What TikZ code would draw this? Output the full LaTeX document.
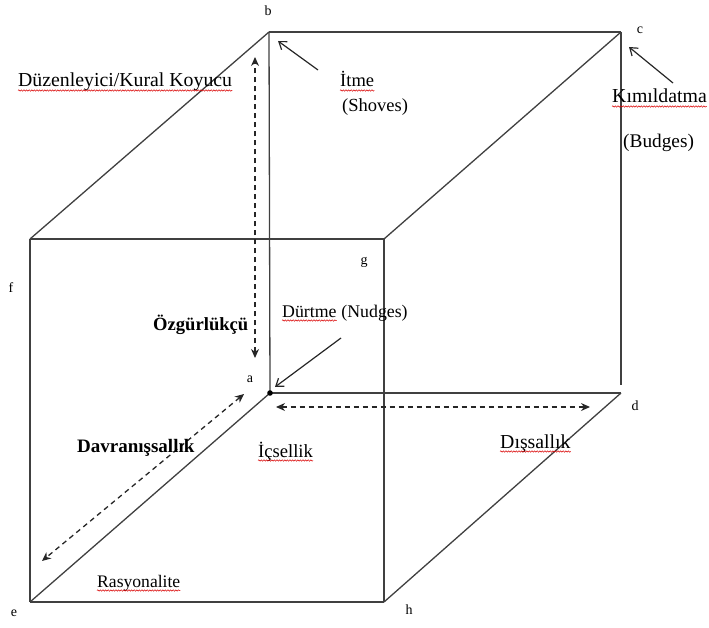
\documentclass[tikz,border=0pt]{standalone}
\usepackage{fontspec}
\setmainfont{Liberation Serif}
\usetikzlibrary{arrows.meta,decorations.pathmorphing}
\begin{document}
\begin{tikzpicture}[x=1pt,y=-1pt,
  edge/.style={draw=black!75,line width=1.3pt},
  dasharrow/.style={draw=black!85,line width=1.3pt,dash pattern=on 5pt off 4pt,{Stealth[length=9pt,width=8pt]}-{Stealth[length=9pt,width=8pt]}},
  ptr/.style={draw=black!85,line width=1.2pt,-{Straight Barb[length=7pt,width=10pt]}},
  lbl/.style={inner sep=0pt,font=\fontsize{#1}{20}\selectfont},
  lbl/.default=18,
  blbl/.style={inner sep=0pt,font=\fontsize{#1}{20}\selectfont\bfseries},
  blbl/.default=18,
  vtx/.style={inner sep=0pt,font=\fontsize{14}{15}\selectfont},
  squig/.style={draw=red!85!black,line width=0.5pt,decorate,decoration={snake,amplitude=0.7pt,segment length=2.6pt}}
]
\useasboundingbox (0,0) rectangle (709,628);
% cube vertices
\coordinate (b) at (269,32);
\coordinate (c) at (621,32);
\coordinate (f) at (30,239);
\coordinate (g) at (384,239);
\coordinate (e) at (30,602);
\coordinate (h) at (384,602);
\coordinate (a) at (270,393);
\coordinate (d) at (621,393);
\coordinate (dtop) at (621,385);
% edges
\draw[edge] (b) -- (c);
\draw[edge] (b) -- (f);
\draw[edge] (c) -- (g);
\draw[edge] (f) -- (g);
\draw[edge] (f) -- (e);
\draw[edge] (g) -- (h);
\draw[edge] (e) -- (h);
\draw[edge] (b) -- (a);
\draw[edge] (a) -- (d);
\draw[edge] (a) -- (e);
\draw[edge] (d) -- (h);
\draw[edge] (c) -- (dtop);
\fill[black] (a) circle (2.8pt);
% dashed double arrows
\coordinate (vtop) at (255,57);
\coordinate (vbot) at (255,358);
\coordinate (hl) at (276,407);
\coordinate (hr) at (590,407);
\coordinate (dgu) at (244,394);
\coordinate (dgl) at (42,561);
\draw[dasharrow] (vbot) -- (vtop);
\draw[dasharrow] (hl) -- (hr);
\draw[dasharrow] (dgu) -- (dgl);
% pointer arrows
\coordinate (itS) at (318,70);
\coordinate (itT) at (278,41);
\coordinate (kmS) at (673,83);
\coordinate (kmT) at (629,47);
\coordinate (drS) at (341,338);
\coordinate (drT) at (275,387);
\draw[ptr] (itS) -- (itT);
\draw[ptr] (kmS) -- (kmT);
\draw[ptr] (drS) -- (drT);
% labels
\node[lbl=19.8,anchor=base west] (duz) at (18,87) {Düzenleyici/Kural Koyucu};
\node[lbl=18.5,anchor=base west] (itme) at (340,87) {İtme};
\node[lbl=18.5,anchor=base west] (shoves) at (342,112) {(Shoves)};
\node[lbl=19.8,anchor=base west] (kim) at (612,103) {Kımıldatma};
\node[lbl=19.3,anchor=base west] (budges) at (623,148) {(Budges)};
\node[blbl=18.6,anchor=base west] (ozg) at (153,330) {Özgürlükçü};
\node[lbl=17.8,anchor=base west] (durt) at (282,317) {Dürtme};
\node[lbl=17.8,anchor=base west] (nudg) at (durt.base east) {\ (Nudges)};
\node[blbl=19,anchor=base west] (davr) at (77,452) {Davranışsallık};
\node[lbl=18.6,anchor=base west] (icse) at (258,457) {İçsellik};
\node[lbl=19.8,anchor=base west] (diss) at (500,448) {Dışsallık};
\node[lbl=17.6,anchor=base west] (rasy) at (97,587) {Rasyonalite};
% spell-check underlines
\foreach \n in {duz,itme,kim,durt,icse,diss,rasy}{
  \draw[squig] ([yshift=-3.5pt]\n.base west) -- ([yshift=-3.5pt]\n.base east);
}
% vertex letters
\node[vtx] (lb) at (268,11) {b};
\node[vtx] (lc) at (640,30) {c};
\node[vtx] (lf) at (11,288) {f};
\node[vtx] (lg) at (364,262) {g};
\node[vtx] (la) at (250,379) {a};
\node[vtx] (ld) at (635,406) {d};
\node[vtx] (le) at (14,613) {e};
\node[vtx] (lh) at (409,610) {h};
\end{tikzpicture}
\end{document}
